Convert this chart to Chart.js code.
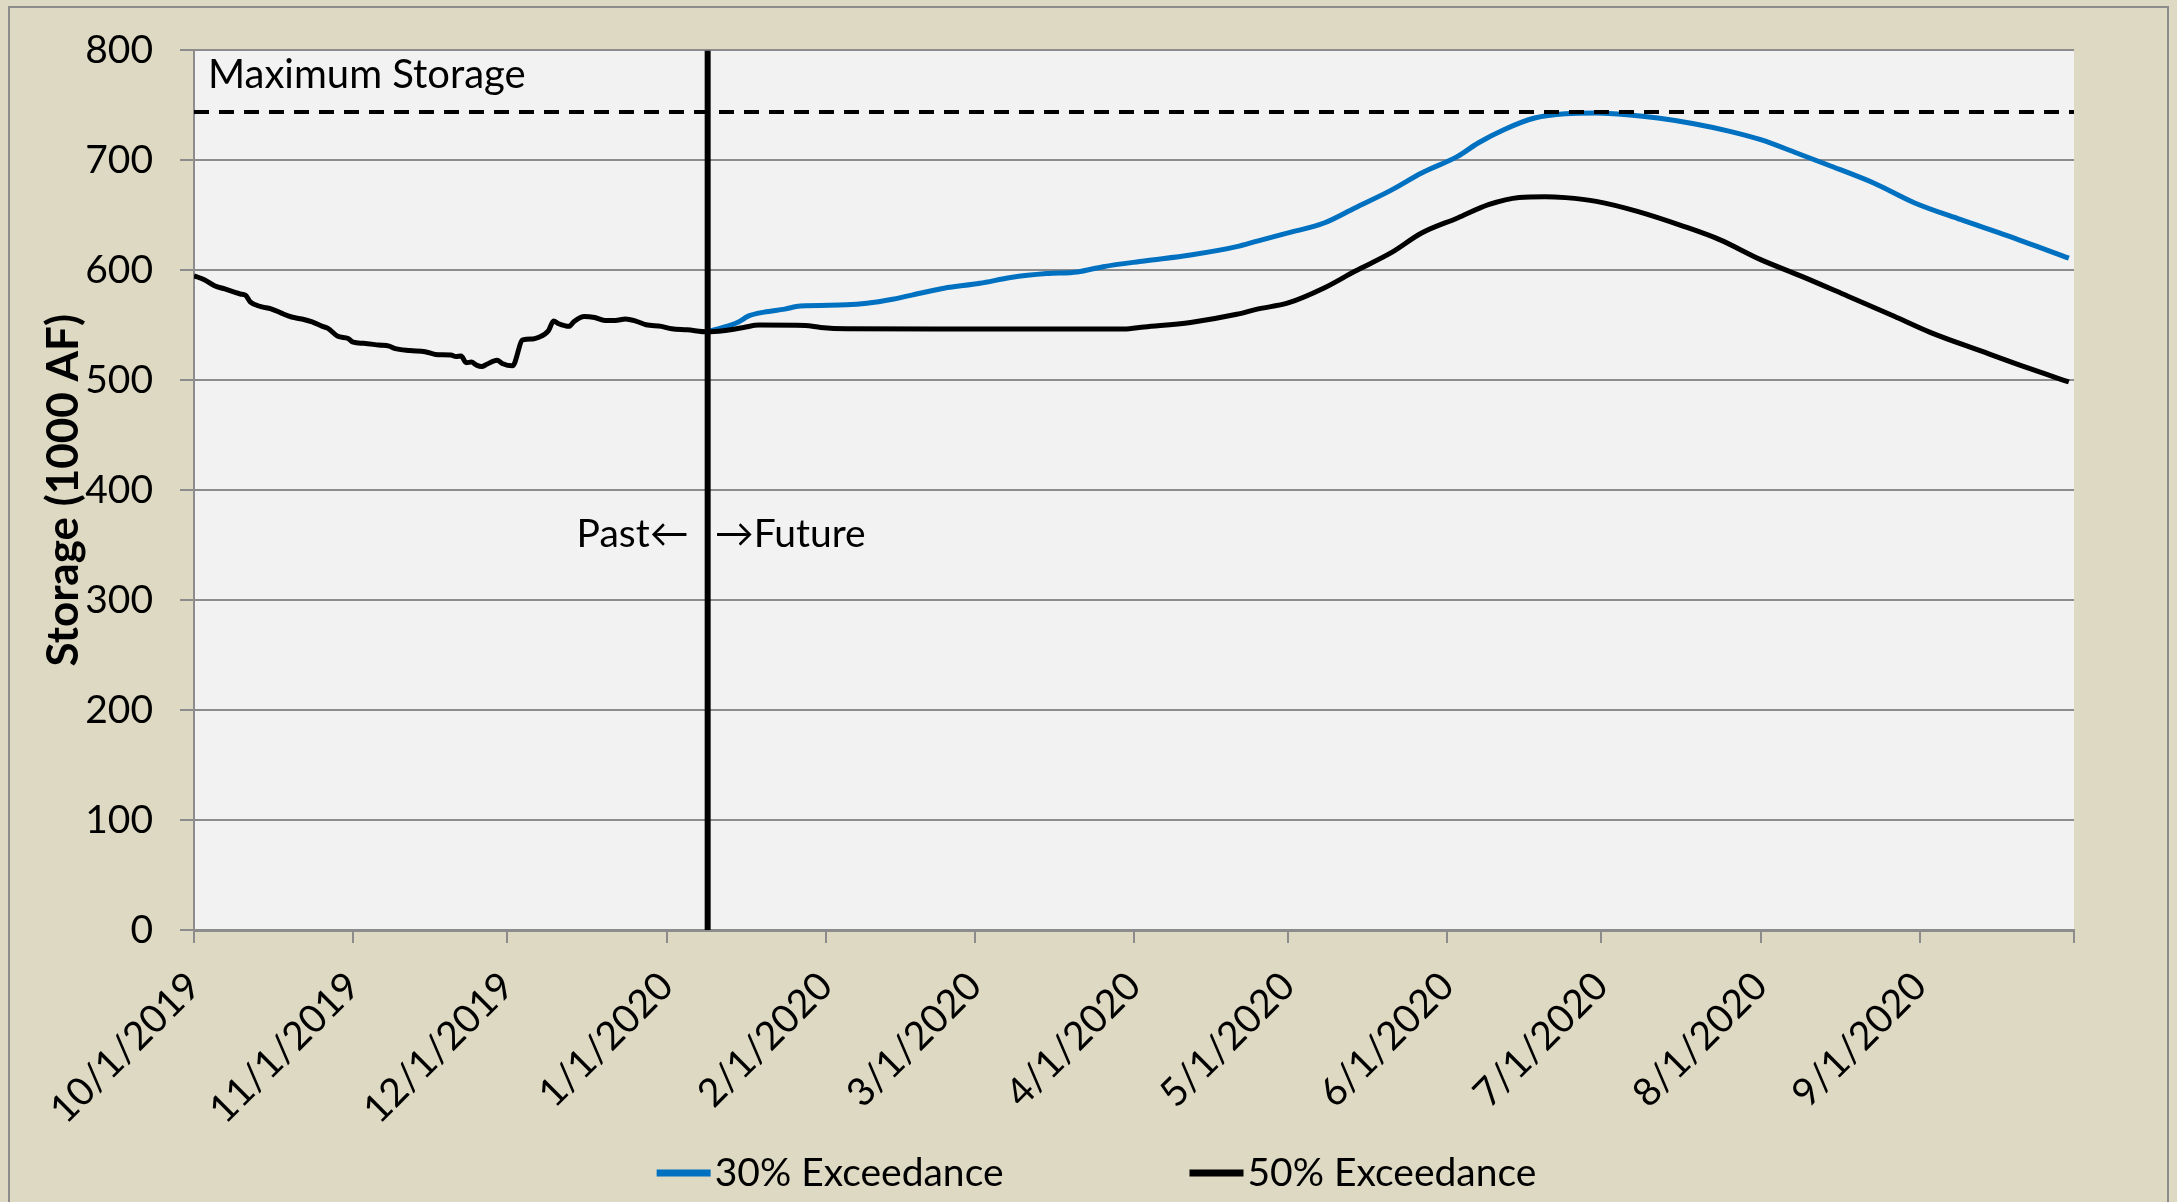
<!DOCTYPE html>
<html>
<head>
<meta charset="utf-8">
<script src="https://cdn.jsdelivr.net/npm/chart.js@4.4.1/dist/chart.umd.min.js"></script>
<style>
  html, body { margin: 0; padding: 0; background: #DDD9C3; }
  #wrap { width: 2177px; height: 1202px; position: relative; }
</style>
</head>
<body>
<div id="wrap"><canvas id="c"></canvas></div>
<script>
// ---------- DATA (days counted from 10/1/2019) ----------
const monthTickDays = [0, 31, 61, 92, 123, 152, 183, 213, 244, 274, 305, 336, 366];
const monthTickLabels = ["10/1/2019", "11/1/2019", "12/1/2019", "1/1/2020", "2/1/2020", "3/1/2020",
  "4/1/2020", "5/1/2020", "6/1/2020", "7/1/2020", "8/1/2020", "9/1/2020", ""];

const yTickValues = [0, 100, 200, 300, 400, 500, 600, 700, 800];

const maxStorage = 744;
const todayDay = 100;

// Observed storage (past)
const pastDays = [0, 2, 4, 6, 8, 9, 10, 11, 13, 15, 17, 19, 21, 23, 25, 26, 28, 30, 31, 33, 36, 38, 39,
  42, 45, 47, 50, 51, 52, 53, 54, 55, 56, 57, 59, 60, 62, 64, 66, 67, 69, 70, 71, 73, 74, 76, 78, 80,
  82, 84, 86, 88, 91, 93, 96, 100];
const pastStorage = [595, 591.5, 586, 583, 580, 578.5, 577.5, 571, 567, 565, 561, 557.5, 555.7, 553, 549,
  547.4, 540, 538, 534.6, 533.6, 532, 531, 529, 527, 526, 523.5, 523, 521.5, 522, 516, 516.5, 513.8,
  512.5, 514.5, 518.3, 515.3, 513.1, 536.7, 537.6, 538.8, 545, 554, 551.4, 549, 553.5, 558, 557, 554.4,
  554.4, 555.7, 553.8, 550.5, 549, 546.8, 545.9, 544];

// 50% exceedance forecast
const future50Days = [103, 107, 110, 119, 122, 127, 150, 181, 185, 194, 203, 207, 213, 220, 226, 233,
  239, 246, 252, 258, 263, 267, 273, 281, 290, 297, 305, 313, 322, 331, 338, 348, 357, 365];
const future50Storage = [545, 548, 550.2, 549.8, 548, 546.8, 546.5, 546.6, 548.5, 552.6, 560, 564.7,
  570.3, 583.9, 599.1, 615.8, 633.9, 647.6, 659.7, 666.3, 667, 666.1, 662.7, 653.6, 640, 627.9, 609.7,
  594.5, 576.4, 558.2, 543.6, 526.4, 511.2, 498.5];

// 30% exceedance forecast
const future30Days = [100, 103, 106, 108, 111, 115, 118, 127, 131, 136, 142, 146, 153, 159, 166, 172,
  177, 185, 194, 203, 207, 213, 220, 226, 233, 239, 246, 250, 255, 261, 267, 273, 279, 285, 292, 299,
  305, 312, 318, 327, 335, 344, 353, 365];
const future30Storage = [544.5, 548, 553, 558.5, 562, 564.7, 567.5, 568.6, 570, 573.7, 579.8, 583.7,
  588.2, 593.4, 597, 598.5, 603.3, 608.5, 613.9, 621.5, 626.6, 634, 643, 656.7, 672.7, 688.5, 703.6,
  715.8, 727.9, 738.5, 742.4, 743, 741.5, 738.5, 733.3, 726.4, 718.8, 706.7, 696, 679.4, 661.2, 646,
  631.5, 611];

const seriesLabels = ["30% Exceedance", "50% Exceedance"];
const seriesColors = ["#0070C0", "#000000"];

// ---------- BUILD ----------
const toPts = (xs, ys) => xs.map((x, i) => ({ x: x, y: ys[i] }));
const black50 = toPts(pastDays, pastStorage).concat(toPts(future50Days, future50Storage));
const blue30 = toPts(future30Days, future30Storage);
const FONT = "Lato, 'Open Sans', 'Noto Sans', sans-serif";
const GRID = "#8c8c8c";
const FS = 39;

const bgPlugin = {
  id: "bg",
  beforeDraw(chart) {
    const ctx = chart.ctx, a = chart.chartArea;
    ctx.save();
    ctx.fillStyle = "#DDD9C3";
    ctx.fillRect(0, 0, chart.width, chart.height);
    ctx.strokeStyle = "#8c8c8c";
    ctx.lineWidth = 2;
    ctx.strokeRect(9, 7, 2159, chart.height + 10);
    ctx.fillStyle = "#F2F2F2";
    ctx.fillRect(a.left, a.top, a.right - a.left, a.bottom - a.top);
    ctx.restore();
  }
};

const annotPlugin = {
  id: "annot",
  afterDraw(chart) {
    const ctx = chart.ctx, a = chart.chartArea;
    const xs = chart.scales.x, ys = chart.scales.y;
    ctx.save();
    ctx.fillStyle = "#000";
    ctx.font = "40px " + FONT;
    ctx.textBaseline = "middle";
    ctx.textAlign = "left";
    ctx.fillText("Maximum Storage", a.left + 14, ys.getPixelForValue(maxStorage) - 37);
    ctx.font = FS + "px " + FONT;
    const tx = xs.getPixelForValue(todayDay);
    const ty = ys.getPixelForValue(360);
    ctx.textAlign = "right";
    ctx.fillText("Past\u2190", tx - 19, ty);
    ctx.textAlign = "left";
    ctx.fillText("\u2192Future", tx + 7, ty);

    // legend (series in legend order)
    const dsets = seriesLabels.map(l => chart.data.datasets.find(d => d.label === l));
    const lineLen = 54, gapLT = 4, itemGap = 186, ly = 1173;
    const widths = dsets.map(d => lineLen + gapLT + ctx.measureText(d.label).width);
    const total = widths.reduce((s, w) => s + w, 0) + itemGap * (dsets.length - 1);
    let x = chart.width / 2 + 8 - total / 2;
    dsets.forEach((d, i) => {
      ctx.strokeStyle = d.borderColor;
      ctx.lineWidth = 7;
      ctx.beginPath();
      ctx.moveTo(x, ly);
      ctx.lineTo(x + lineLen, ly);
      ctx.stroke();
      ctx.fillStyle = "#000";
      ctx.textAlign = "left";
      ctx.fillText(d.label, x + lineLen + gapLT, ly);
      x += widths[i] + itemGap;
    });
    ctx.restore();
  }
};

new Chart(document.getElementById("c"), {
  type: "line",
  data: {
    datasets: [
      {
        label: "today",
        data: [{ x: todayDay, y: 0 }, { x: todayDay, y: 800 }],
        borderColor: "#000", borderWidth: 6, pointRadius: 0
      },
      {
        label: "Maximum Storage",
        data: [{ x: 0, y: maxStorage }, { x: 366, y: maxStorage }],
        borderColor: "#000", borderWidth: 4, borderDash: [15, 10], pointRadius: 0
      },
      {
        label: seriesLabels[1],
        data: black50, borderColor: seriesColors[1], borderWidth: 5,
        pointRadius: 0, cubicInterpolationMode: "monotone"
      },
      {
        label: seriesLabels[0],
        data: blue30, borderColor: seriesColors[0], borderWidth: 5,
        pointRadius: 0, cubicInterpolationMode: "monotone"
      }
    ]
  },
  options: {
    responsive: true,
    maintainAspectRatio: false,
    animation: false,
    events: [],
    layout: { padding: { left: 10, top: 47, right: 103, bottom: 72 }, autoPadding: false },
    plugins: { legend: { display: false }, tooltip: { enabled: false } },
    scales: {
      x: {
        type: "linear",
        min: 0, max: 366,
        afterFit(scale) { scale.height = 200; },
        afterBuildTicks(scale) { scale.ticks = monthTickDays.map(v => ({ value: v })); },
        ticks: {
          autoSkip: false, minRotation: 45, maxRotation: 45, padding: 20,
          color: "#000", font: { family: FONT, size: FS },
          callback(value) { const i = monthTickDays.indexOf(value); return i >= 0 ? monthTickLabels[i] : ""; }
        },
        grid: { display: true, drawOnChartArea: false, drawTicks: true, tickLength: 13, color: GRID, lineWidth: 2 },
        border: { display: true, color: GRID, width: 3 }
      },
      y: {
        min: 0, max: 800,
        afterFit(scale) { scale.width = 184; },
        afterBuildTicks(scale) { scale.ticks = yTickValues.map(v => ({ value: v })); },
        ticks: { padding: 27, color: "#000", font: { family: FONT, size: FS } },
        grid: { color: GRID, lineWidth: 2, drawTicks: true, tickLength: 14 },
        border: { display: true, color: GRID, width: 2 },
        title: {
          display: true, text: "Storage (1000 AF)", color: "#000",
          font: { family: FONT, size: 44, weight: "bold" },
          padding: { top: 27, bottom: 0 }
        }
      }
    }
  },
  plugins: [bgPlugin, annotPlugin]
});
</script>
</body>
</html>
